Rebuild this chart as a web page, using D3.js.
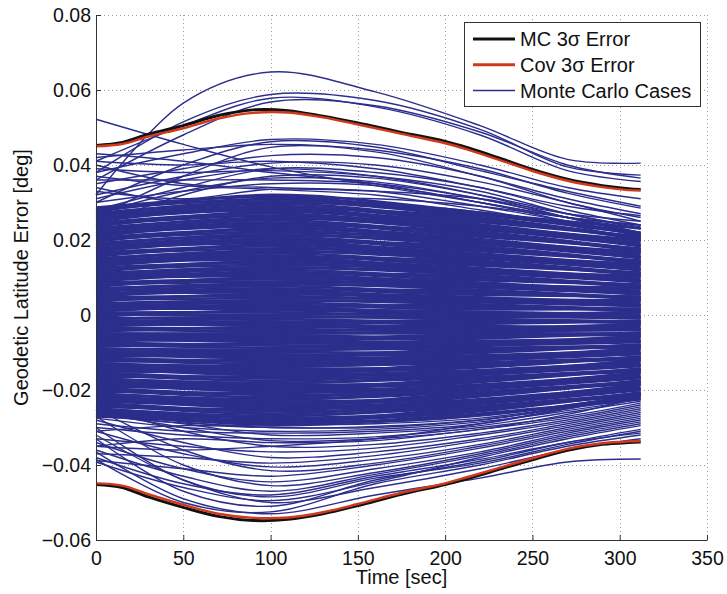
<!DOCTYPE html>
<html>
<head>
<meta charset="utf-8">
<script src="https://d3js.org/d3.v7.min.js"></script>
<style>
  body { margin: 0; background: #fff; }
  svg { display: block; font-family: "Liberation Sans", Arial, Helvetica, sans-serif; }
</style>
</head>
<body>
<div id="chart"></div>
<script>
// ---- data (deg vs sec) ----
const xTicks = [0, 50, 100, 150, 200, 250, 300, 350];
const yTicks = [-0.06, -0.04, -0.02, 0, 0.02, 0.04, 0.06, 0.08];

// 3-sigma envelopes
const sigmaTimes = [0, 15, 30, 50, 70, 90, 110, 130, 150, 175, 200, 213, 230, 250, 270, 290, 305, 312];
const mcSigmaUpper  = [.0452, .0460, .0482, .0505, .0532, .0547, .0545, .0530, .0512, .0487, .0463, .0446, .0420, .0388, .0362, .0345, .0337, .0335];
const covSigmaUpper = [.0450, .0456, .0476, .0498, .0524, .0539, .0540, .0527, .0508, .0483, .0458, .0441, .0415, .0384, .0358, .0341, .0333, .0332];
const mcSigmaLower  = [-.0452, -.0460, -.0485, -.0513, -.0537, -.0548, -.0545, -.0530, -.0508, -.0478, -.0452, -.0436, -.0413, -.0386, -.0361, -.0345, -.0340, -.0339];
const covSigmaLower = [-.0449, -.0455, -.0478, -.0506, -.0530, -.0541, -.0540, -.0526, -.0504, -.0474, -.0449, -.0432, -.0409, -.0382, -.0357, -.0342, -.0337, -.0336];

// outer Monte Carlo cases (visible individually)
const caseTimes = [0, 50, 100, 160, 220, 270, 312];
const outerCases = [
  [.0320, .0565, .0648, .0595, .0505, .0415, .0405],
  [.0380, .0515, .0588, .0572, .0495, .0395, .0373],
  [.0410, .0505, .0578, .0555, .0480, .0385, .0356],
  [.0360, .0480, .0568, .0558, .0488, .0400, .0365],
  [.0522, .0455, .0395, .0345, .0300, .0260, .0240],
  [.0380, .0430, .0468, .0455, .0400, .0340, .0310],
  [.0300, .0400, .0462, .0448, .0385, .0330, .0290],
  [.0420, .0440, .0455, .0440, .0390, .0325, .0285],
  [.0260, .0370, .0447, .0435, .0370, .0310, .0270],
  [.0350, .0390, .0425, .0420, .0370, .0300, .0260],
  [.0410, .0400, .0410, .0390, .0340, .0290, .0265],
  [.0320, .0370, .0405, .0400, .0355, .0300, .0250],
  [.0280, .0340, .0390, .0380, .0340, .0280, .0240],
  [.0390, .0380, .0385, .0370, .0330, .0270, .0235],
  [.0240, .0320, .0370, .0365, .0320, .0270, .0230],
  [.0360, .0360, .0360, .0350, .0310, .0260, .0220],
  [.0300, .0330, .0350, .0345, .0300, .0250, .0210],
  [.0400, .0350, .0340, .0330, .0290, .0250, .0215],
  [.0330, .0310, .0335, .0330, .0310, .0270, .0250],
  [.0310, .0360, .0390, .0370, .0320, .0260, .0215],
  [.0370, .0345, .0335, .0320, .0280, .0240, .0200],
  [.0270, .0330, .0365, .0355, .0310, .0260, .0220],
  [.0430, .0410, .0380, .0350, .0300, .0260, .0230],
  [.0340, .0300, .0310, .0310, .0290, .0260, .0240],
  [-.0365, -.0490, -.0530, -.0480, -.0435, -.0392, -.0384],
  [-.0385, -.0500, -.0525, -.0450, -.0400, -.0350, -.0320],
  [-.0330, -.0470, -.0510, -.0440, -.0390, -.0340, -.0305],
  [-.0392, -.0460, -.0495, -.0445, -.0380, -.0330, -.0295],
  [-.0300, -.0440, -.0485, -.0435, -.0395, -.0345, -.0310],
  [-.0360, -.0430, -.0470, -.0425, -.0375, -.0325, -.0290],
  [-.0270, -.0400, -.0455, -.0420, -.0370, -.0320, -.0285],
  [-.0340, -.0410, -.0445, -.0410, -.0365, -.0315, -.0280],
  [-.0388, -.0410, -.0430, -.0400, -.0355, -.0310, -.0275],
  [-.0250, -.0360, -.0415, -.0395, -.0350, -.0305, -.0270],
  [-.0310, -.0370, -.0405, -.0385, -.0345, -.0300, -.0265],
  [-.0370, -.0380, -.0395, -.0375, -.0335, -.0295, -.0260],
  [-.0280, -.0340, -.0380, -.0365, -.0330, -.0290, -.0255],
  [-.0330, -.0350, -.0365, -.0355, -.0320, -.0285, -.0250],
  [-.0240, -.0310, -.0350, -.0345, -.0315, -.0280, -.0245],
  [-.0350, -.0330, -.0340, -.0335, -.0305, -.0275, -.0240],
  [-.0300, -.0320, -.0330, -.0325, -.0300, -.0270, -.0235],
  [-.0320, -.0440, -.0500, -.0460, -.0410, -.0360, -.0330],
  [-.0380, -.0450, -.0480, -.0430, -.0385, -.0340, -.0315],
  [-.0290, -.0310, -.0315, -.0310, -.0290, -.0250, -.0215],
  [-.0260, -.0300, -.0335, -.0330, -.0305, -.0265, -.0220],
  [-.0350, -.0360, -.0350, -.0330, -.0290, -.0250, -.0225],
  [-.0275, -.0300, -.0310, -.0305, -.0285, -.0255, -.0225],
  [-.0310, -.0295, -.0300, -.0300, -.0280, -.0245, -.0210],
  [-.0265, -.0290, -.0320, -.0315, -.0295, -.0260, -.0230],
  [-.0255, -.0285, -.0300, -.0297, -.0280, -.0248, -.0215],
  [-.0262, -.0280, -.0292, -.0290, -.0275, -.0245, -.0212],
  [-.0268, -.0288, -.0296, -.0287, -.0268, -.0240, -.0210]
];

// dense core of Monte Carlo cases
const denseTimes = [0, 100, 200, 312];
const denseCases = [
  [-.0270,-.0285,-.0275,-.0217],[-.0263,-.0292,-.0270,-.0224],[-.0264,-.0281,-.0264,-.0207],[-.0253,-.0287,-.0254,-.0214],
  [-.0258,-.0275,-.0259,-.0208],[-.0249,-.0270,-.0244,-.0200],[-.0251,-.0269,-.0249,-.0210],[-.0244,-.0252,-.0237,-.0197],
  [-.0239,-.0263,-.0238,-.0199],[-.0234,-.0257,-.0241,-.0185],[-.0230,-.0241,-.0235,-.0185],[-.0223,-.0248,-.0230,-.0192],
  [-.0224,-.0237,-.0224,-.0175],[-.0213,-.0243,-.0214,-.0182],[-.0218,-.0231,-.0219,-.0176],[-.0209,-.0226,-.0204,-.0168],
  [-.0211,-.0225,-.0209,-.0178],[-.0204,-.0208,-.0197,-.0165],[-.0199,-.0219,-.0198,-.0167],[-.0194,-.0213,-.0201,-.0153],
  [-.0190,-.0197,-.0195,-.0153],[-.0183,-.0204,-.0190,-.0160],[-.0184,-.0193,-.0184,-.0143],[-.0173,-.0199,-.0174,-.0150],
  [-.0178,-.0187,-.0179,-.0144],[-.0169,-.0182,-.0164,-.0136],[-.0171,-.0181,-.0169,-.0146],[-.0164,-.0164,-.0157,-.0133],
  [-.0159,-.0175,-.0158,-.0135],[-.0154,-.0169,-.0161,-.0121],[-.0150,-.0153,-.0155,-.0121],[-.0143,-.0160,-.0150,-.0128],
  [-.0144,-.0149,-.0144,-.0111],[-.0133,-.0155,-.0134,-.0118],[-.0138,-.0143,-.0139,-.0112],[-.0129,-.0138,-.0124,-.0104],
  [-.0131,-.0137,-.0129,-.0114],[-.0124,-.0120,-.0117,-.0101],[-.0119,-.0131,-.0118,-.0103],[-.0114,-.0125,-.0121,-.0089],
  [-.0110,-.0109,-.0115,-.0089],[-.0103,-.0116,-.0110,-.0096],[-.0104,-.0105,-.0104,-.0079],[-.0093,-.0111,-.0094,-.0086],
  [-.0098,-.0099,-.0099,-.0080],[-.0089,-.0094,-.0084,-.0072],[-.0091,-.0093,-.0089,-.0082],[-.0084,-.0076,-.0077,-.0069],
  [-.0079,-.0087,-.0078,-.0071],[-.0074,-.0081,-.0081,-.0057],[-.0070,-.0065,-.0075,-.0057],[-.0063,-.0072,-.0070,-.0064],
  [-.0064,-.0061,-.0064,-.0047],[-.0053,-.0067,-.0054,-.0054],[-.0058,-.0055,-.0059,-.0048],[-.0049,-.0050,-.0044,-.0040],
  [-.0051,-.0049,-.0049,-.0050],[-.0044,-.0032,-.0037,-.0037],[-.0039,-.0043,-.0038,-.0039],[-.0034,-.0037,-.0041,-.0025],
  [-.0030,-.0021,-.0035,-.0025],[-.0023,-.0028,-.0030,-.0032],[-.0024,-.0017,-.0024,-.0015],[-.0013,-.0023,-.0014,-.0022],
  [-.0018,-.0011,-.0019,-.0016],[-.0009,-.0006,-.0004,-.0008],[-.0011,-.0005,-.0009,-.0018],[-.0004,.0012,.0003,-.0005],
  [.0001,.0001,.0002,-.0007],[.0006,.0007,-.0001,.0007],[.0010,.0023,.0005,.0007],[.0017,.0016,.0010,0],
  [.0016,.0027,.0016,.0017],[.0027,.0021,.0026,.0010],[.0022,.0033,.0021,.0016],[.0031,.0038,.0036,.0024],
  [.0029,.0039,.0031,.0014],[.0036,.0056,.0043,.0027],[.0041,.0045,.0042,.0025],[.0046,.0051,.0039,.0039],
  [.0050,.0067,.0045,.0039],[.0057,.0060,.0050,.0032],[.0056,.0071,.0056,.0049],[.0067,.0065,.0066,.0042],
  [.0062,.0077,.0061,.0048],[.0071,.0082,.0076,.0056],[.0069,.0083,.0071,.0046],[.0076,.0100,.0083,.0059],
  [.0081,.0089,.0082,.0057],[.0086,.0095,.0079,.0071],[.0090,.0111,.0085,.0071],[.0097,.0104,.0090,.0064],
  [.0096,.0115,.0096,.0081],[.0107,.0109,.0106,.0074],[.0102,.0121,.0101,.0080],[.0111,.0126,.0116,.0088],
  [.0109,.0127,.0111,.0078],[.0116,.0144,.0123,.0091],[.0121,.0133,.0122,.0089],[.0126,.0139,.0119,.0103],
  [.0130,.0155,.0125,.0103],[.0137,.0148,.0130,.0096],[.0136,.0159,.0136,.0113],[.0147,.0153,.0146,.0106],
  [.0142,.0165,.0141,.0112],[.0151,.0170,.0156,.0120],[.0149,.0171,.0151,.0110],[.0156,.0188,.0163,.0123],
  [.0161,.0177,.0162,.0121],[.0166,.0183,.0159,.0135],[.0170,.0199,.0165,.0135],[.0177,.0192,.0170,.0128],
  [.0176,.0203,.0176,.0145],[.0187,.0197,.0186,.0138],[.0182,.0209,.0181,.0144],[.0191,.0214,.0196,.0152],
  [.0189,.0215,.0191,.0142],[.0196,.0232,.0203,.0155],[.0201,.0221,.0202,.0153],[.0206,.0227,.0199,.0167],
  [.0210,.0243,.0205,.0167],[.0217,.0236,.0210,.0160],[.0216,.0247,.0216,.0177],[.0227,.0241,.0226,.0170],
  [.0222,.0253,.0221,.0176],[.0231,.0258,.0236,.0184],[.0229,.0259,.0231,.0174],[.0236,.0276,.0243,.0187],
  [.0241,.0265,.0242,.0185],[.0246,.0271,.0239,.0199],[.0250,.0287,.0245,.0199],[.0257,.0280,.0250,.0192],
  [.0256,.0291,.0256,.0209],[.0267,.0285,.0266,.0202],[.0262,.0297,.0261,.0208],[.0271,.0302,.0276,.0216],
  [.0269,.0303,.0271,.0206],[.0276,.0320,.0283,.0219],[.0281,.0309,.0282,.0217],[.0286,.0315,.0279,.0231]
];

const legendItems = ["MC 3σ Error", "Cov 3σ Error", "Monte Carlo Cases"];
const blue = "#2c2e8c", black = "#111111", red = "#cf3a1c";

// ---- canvas ----
const margin = {top: 15, right: 20, bottom: 54, left: 96},
      width = 727 - margin.left - margin.right,
      height = 594 - margin.top - margin.bottom;

const svg = d3.select("#chart")
    .append("svg")
    .attr("width", width + margin.left + margin.right)
    .attr("height", height + margin.top + margin.bottom)
    .append("g")
    .attr("transform", `translate(${margin.left},${margin.top})`);

const x = d3.scaleLinear().domain([0, 350]).range([0, width]);
const y = d3.scaleLinear().domain([-0.06, 0.08]).range([height, 0]);

// dotted grid (also gives the dotted top/right edges)
svg.append("g")
    .selectAll("line")
    .data(xTicks.filter(d => d > 0))
    .join("line")
    .attr("x1", d => Math.round(x(d)) + 0.5).attr("x2", d => Math.round(x(d)) + 0.5)
    .attr("y1", 0).attr("y2", height)
    .attr("stroke", "#9a9a9a")
    .attr("stroke-dasharray", "1,3");

svg.append("g")
    .selectAll("line")
    .data(yTicks.filter(d => d > -0.06))
    .join("line")
    .attr("x1", 0).attr("x2", width)
    .attr("y1", d => Math.round(y(d)) + 0.5).attr("y2", d => Math.round(y(d)) + 0.5)
    .attr("stroke", "#9a9a9a")
    .attr("stroke-dasharray", "1,3");

// line generators
const lineFor = times => d3.line()
    .x((d, i) => x(times[i]))
    .y(d => y(d))
    .curve(d3.curveCatmullRom.alpha(0.5));

// Monte Carlo cases (the core is so dense it prints as a solid band)
svg.append("g")
    .selectAll("path")
    .data(denseCases)
    .join("path")
    .attr("d", lineFor(denseTimes))
    .attr("fill", "none")
    .attr("stroke", blue)
    .attr("stroke-width", 2.8);

svg.append("g")
    .selectAll("path")
    .data(outerCases)
    .join("path")
    .attr("d", lineFor(caseTimes))
    .attr("fill", "none")
    .attr("stroke", blue)
    .attr("stroke-width", 1.4);

// 3 sigma curves
[mcSigmaUpper, mcSigmaLower].forEach(s => {
    svg.append("path")
        .attr("d", lineFor(sigmaTimes)(s))
        .attr("fill", "none")
        .attr("stroke", black)
        .attr("stroke-width", 3);
});
[covSigmaUpper, covSigmaLower].forEach(s => {
    svg.append("path")
        .attr("d", lineFor(sigmaTimes)(s))
        .attr("fill", "none")
        .attr("stroke", red)
        .attr("stroke-width", 2.4);
});

// axes (ticks point inward, like matlab)
const fmtY = d => d === 0 ? "0" : d3.format(".2f")(d);

svg.append("g")
    .attr("transform", `translate(0,${height})`)
    .call(d3.axisBottom(x).tickValues(xTicks).tickSizeInner(-5).tickSizeOuter(0).tickPadding(11))
    .call(g => g.select(".domain").attr("stroke", "#333"))
    .call(g => g.selectAll(".tick line").attr("stroke", "#333"))
    .call(g => g.selectAll("text")
        .attr("font-family", "Liberation Sans, Arial, sans-serif")
        .style("font-size", "19.5px")
        .attr("fill", "#111"));

svg.append("g")
    .call(d3.axisLeft(y).tickValues(yTicks).tickFormat(fmtY).tickSizeInner(-5).tickSizeOuter(0).tickPadding(5))
    .call(g => g.select(".domain").attr("stroke", "#333"))
    .call(g => g.selectAll(".tick line").attr("stroke", "#333"))
    .call(g => g.selectAll("text")
        .attr("font-family", "Liberation Sans, Arial, sans-serif")
        .style("font-size", "19.5px")
        .attr("fill", "#111"));

// axis labels
svg.append("text")
    .attr("x", width / 2)
    .attr("y", height + 44)
    .attr("text-anchor", "middle")
    .style("font-size", "20px")
    .attr("fill", "#111")
    .text("Time [sec]");

svg.append("text")
    .attr("transform", "rotate(-90)")
    .attr("x", -height / 2)
    .attr("y", -68)
    .attr("text-anchor", "middle")
    .style("font-size", "20px")
    .attr("fill", "#111")
    .text("Geodetic Latitude Error [deg]");

// legend
const legend = svg.append("g")
    .attr("transform", `translate(${Math.round(x(210.8))},${Math.round(y(0.0781))})`);

legend.append("rect")
    .attr("x", 0.5).attr("y", 0.5)
    .attr("width", 236).attr("height", 84)
    .attr("fill", "#fff")
    .attr("stroke", "#333");

const legendStyles = [
    {color: black, w: 3.2},
    {color: red, w: 3},
    {color: blue, w: 1.5}
];

legendItems.forEach((label, i) => {
    const ly = 17 + i * 25.7;
    legend.append("line")
        .attr("x1", 9).attr("x2", 51)
        .attr("y1", ly).attr("y2", ly)
        .attr("stroke", legendStyles[i].color)
        .attr("stroke-width", legendStyles[i].w);
    legend.append("text")
        .attr("x", 56)
        .attr("y", ly)
        .attr("dy", "0.36em")
        .style("font-size", "20px")
        .attr("fill", "#111")
        .text(label);
});
</script>
</body>
</html>
